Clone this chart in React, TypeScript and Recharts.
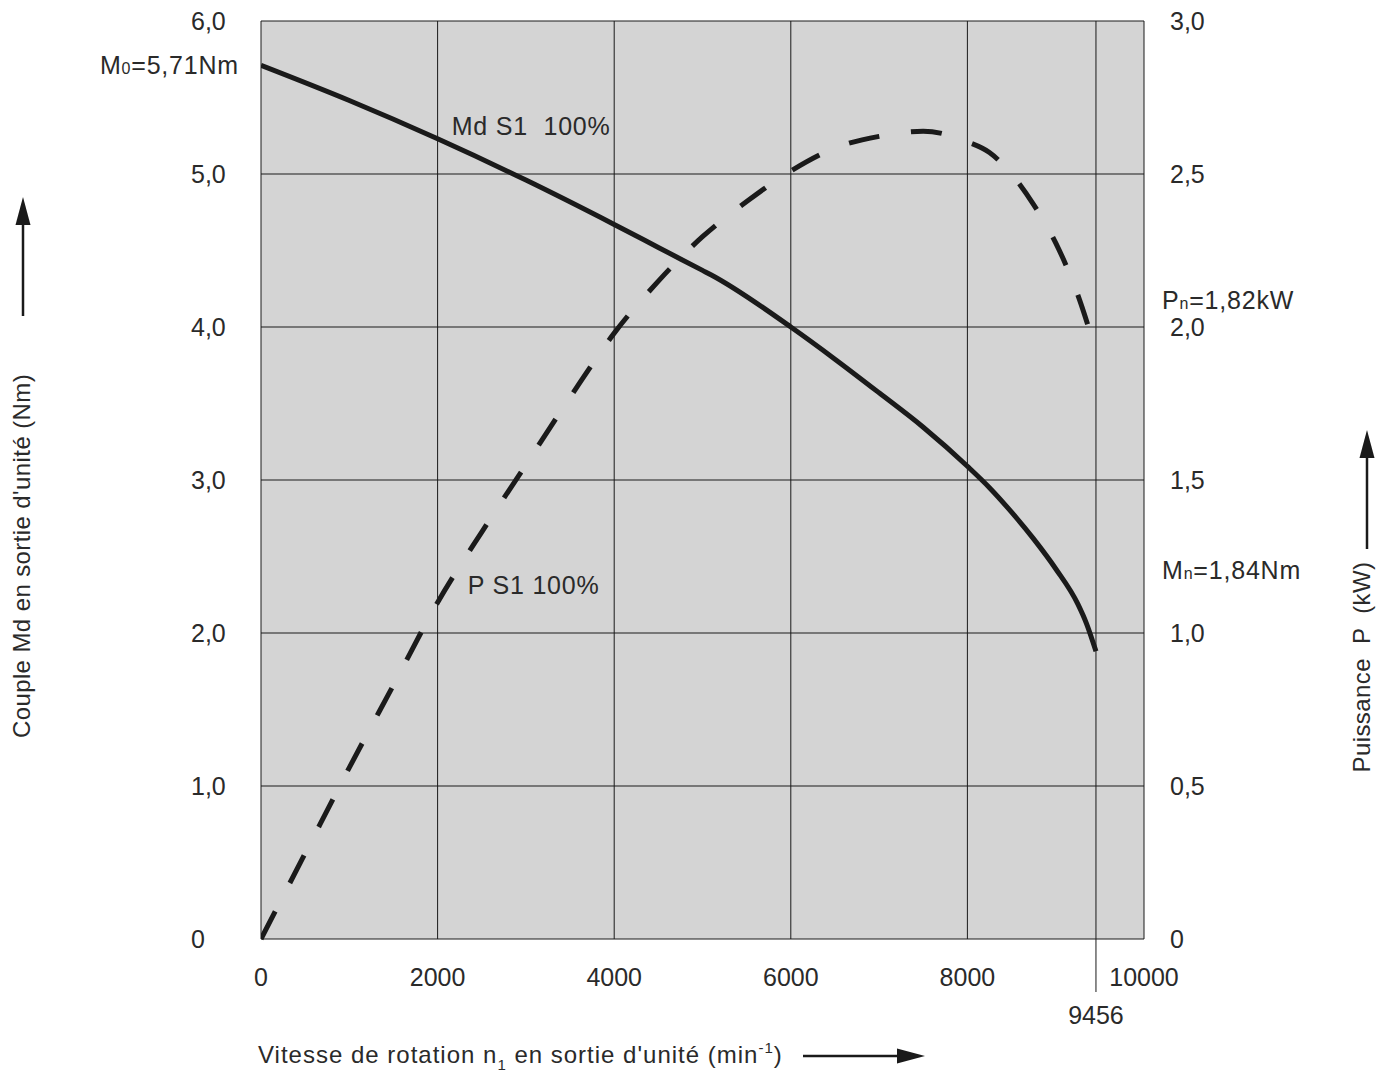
import React from 'react';
import { LineChart, Line, XAxis, YAxis, CartesianGrid, ReferenceDot } from 'recharts';

// ---- axis ticks ----
const speedTicks = [0, 2000, 4000, 6000, 8000, 9456, 10000];
const torqueTicks = [0, 1, 2, 3, 4, 5, 6];
const torqueTickLabels = ['0', '1,0', '2,0', '3,0', '4,0', '5,0', '6,0'];
const powerTicks = [0, 0.5, 1, 1.5, 2, 2.5, 3];
const powerTickLabels = ['0', '0,5', '1,0', '1,5', '2,0', '2,5', '3,0'];

// ---- torque Md S1 100% (Nm) ----
const torqueSpeed = [0, 1000, 2000, 3000, 4000, 4500, 5000, 5100, 6000, 6500, 7000, 7500, 8000, 8250, 8500, 8750, 9000, 9250, 9350, 9456];
const torqueValues = [5.71, 5.48, 5.23, 4.96, 4.67, 4.52, 4.37, 4.34, 4.0, 3.79, 3.57, 3.345, 3.09, 2.95, 2.79, 2.615, 2.42, 2.19, 2.06, 1.88];

// ---- power P S1 100% (kW) ----
const powerSpeed = [0, 500, 1000, 1500, 2000, 2500, 3000, 3500, 4000, 4500, 5000, 5500, 6000, 6500, 7000, 7500, 8000, 8250, 8500, 8750, 9000, 9250, 9456];
const powerValues = [0, 0.28, 0.56, 0.83, 1.1, 1.33, 1.55, 1.77, 1.98, 2.15, 2.295, 2.41, 2.51, 2.585, 2.623, 2.64, 2.605, 2.57, 2.5, 2.4, 2.275, 2.105, 1.92];

const torqueData = torqueSpeed.map((x, i) => ({ x, v: torqueValues[i] }));
const powerData = powerSpeed.map((x, i) => ({ x, v: powerValues[i] }));

const FONT = '"Liberation Sans", Arial, sans-serif';
const TXT = '#2a2a2a';
const INK = '#1a1a1a';

const XTick = (props: any) => {
  const { x, y, payload } = props;
  const v = payload.value;
  if (v === 9456) {
    return (
      <g>
        <line x1={x} x2={x} y1={y - 38} y2={y + 15} stroke={INK} strokeWidth={1} />
        <text x={x} y={y + 38} dy="0.35em" textAnchor="middle" fontFamily={FONT} fontSize={25} fill={TXT}>
          9456
        </text>
      </g>
    );
  }
  return (
    <text x={x} y={y} dy="0.35em" textAnchor="middle" fontFamily={FONT} fontSize={25} fill={TXT}>
      {String(v)}
    </text>
  );
};

const LeftTick = (props: any) => {
  const { x, y, payload } = props;
  const idx = torqueTicks.indexOf(payload.value);
  return (
    <text x={x} y={y} dy="0.35em" textAnchor="start" fontFamily={FONT} fontSize={25} fill={TXT}>
      {torqueTickLabels[idx]}
    </text>
  );
};

const RightTick = (props: any) => {
  const { x, y, payload } = props;
  const idx = powerTicks.indexOf(payload.value);
  return (
    <text x={x} y={y} dy="0.35em" textAnchor="start" fontFamily={FONT} fontSize={25} fill={TXT}>
      {powerTickLabels[idx]}
    </text>
  );
};

const LeftTitle = (p: any) => {
  const vb = p.viewBox;
  const cx = vb.x + 22;
  const cy = vb.y + 535;
  const ax = vb.x + 23;
  return (
    <g>
      <text
        x={cx}
        y={cy}
        dy="0.35em"
        textAnchor="middle"
        transform={`rotate(-90, ${cx}, ${cy})`}
        fontFamily={FONT}
        fontSize={24}
        letterSpacing={0.4}
        fill={TXT}
      >
        Couple Md en sortie d'unité (Nm)
      </text>
      <line x1={ax} x2={ax} y1={vb.y + 295} y2={vb.y + 200} stroke={INK} strokeWidth={2.5} />
      <polygon points={`${ax},${vb.y + 176} ${ax - 7.5},${vb.y + 204} ${ax + 7.5},${vb.y + 204}`} fill={INK} />
    </g>
  );
};

const RightTitle = (p: any) => {
  const vb = p.viewBox;
  const cx = vb.x + 218;
  const cy = vb.y + 646;
  const ax = vb.x + 223;
  return (
    <g>
      <text
        x={cx}
        y={cy}
        dy="0.35em"
        textAnchor="middle"
        transform={`rotate(-90, ${cx}, ${cy})`}
        fontFamily={FONT}
        fontSize={24}
        letterSpacing={0.4}
        fill={TXT}
        style={{ whiteSpace: 'pre' }}
      >
        {'Puissance  P  (kW)'}
      </text>
      <line x1={ax} x2={ax} y1={vb.y + 528} y2={vb.y + 433} stroke={INK} strokeWidth={2.5} />
      <polygon points={`${ax},${vb.y + 409} ${ax - 7.5},${vb.y + 437} ${ax + 7.5},${vb.y + 437}`} fill={INK} />
    </g>
  );
};

const XTitle = (p: any) => {
  const vb = p.viewBox;
  const tx = vb.x - 3;
  const ty = vb.y + 116;
  const ay = vb.y + 117;
  return (
    <g>
      <text x={tx} y={ty} dy="0.35em" textAnchor="start" fontFamily={FONT} fontSize={24} letterSpacing={1} fill={TXT}>
        <tspan>Vitesse de rotation n</tspan>
        <tspan fontSize={15} dy={7}>1</tspan>
        <tspan dy={-7}> en sortie d'unité (min</tspan>
        <tspan fontSize={15} dy={-10}>-1</tspan>
        <tspan dy={10}>)</tspan>
      </text>
      <line x1={vb.x + 542} x2={vb.x + 640} y1={ay} y2={ay} stroke={INK} strokeWidth={2.5} />
      <polygon
        points={`${vb.x + 664},${ay} ${vb.x + 636},${ay - 7.5} ${vb.x + 636},${ay + 7.5}`}
        fill={INK}
      />
    </g>
  );
};

const makeLabel = (parts: { t: string; small?: boolean }[], dx: number, anchor: 'start' | 'end') => (p: any) => {
  const vb = p.viewBox;
  const cx = vb.x + vb.width / 2;
  const cy = vb.y + vb.height / 2;
  return (
    <text
      x={cx + dx}
      y={cy}
      dy="0.35em"
      textAnchor={anchor}
      fontFamily={FONT}
      fontSize={25}
      letterSpacing={0.8}
      fill={TXT}
      style={{ whiteSpace: 'pre' }}
    >
      {parts.map((s, i) => (
        <tspan key={i} fontSize={s.small ? 16 : 25}>
          {s.t}
        </tspan>
      ))}
    </text>
  );
};

export default function App() {
  return (
    <div style={{ position: 'absolute', left: 0, top: 0, width: 1390, height: 1072, background: '#fff' }}>
      <LineChart width={1390} height={1072} margin={{ top: 21, right: 0, bottom: 0, left: 0 }}>
        <CartesianGrid yAxisId="left" stroke={INK} strokeWidth={1} fill="#d4d4d4" fillOpacity={1} />
        <XAxis
          type="number"
          dataKey="x"
          domain={[0, 10000]}
          ticks={speedTicks}
          interval={0}
          allowDataOverflow
          height={133}
          tickSize={0}
          tickMargin={38}
          tickLine={false}
          axisLine={false}
          tick={<XTick />}
          label={{ content: XTitle }}
        />
        <YAxis
          yAxisId="left"
          type="number"
          domain={[0, 6]}
          ticks={torqueTicks}
          interval={0}
          width={261}
          tickSize={0}
          tickMargin={70}
          tickLine={false}
          axisLine={false}
          tick={<LeftTick />}
          label={{ content: LeftTitle }}
        />
        <YAxis
          yAxisId="right"
          orientation="right"
          type="number"
          domain={[0, 3]}
          ticks={powerTicks}
          interval={0}
          width={246}
          tickSize={0}
          tickMargin={26}
          tickLine={false}
          axisLine={false}
          tick={<RightTick />}
          label={{ content: RightTitle }}
        />
        <Line
          yAxisId="left"
          data={torqueData}
          dataKey="v"
          type="monotone"
          stroke={INK}
          strokeWidth={5}
          dot={false}
          activeDot={false}
          isAnimationActive={false}
        />
        <Line
          yAxisId="right"
          data={powerData}
          dataKey="v"
          type="monotone"
          stroke={INK}
          strokeWidth={5}
          strokeDasharray="31 32"
          dot={false}
          activeDot={false}
          isAnimationActive={false}
        />
        <ReferenceDot
          yAxisId="left"
          x={0}
          y={5.71}
          r={1}
          fill="none"
          stroke="none"
          ifOverflow="visible"
          label={{ content: makeLabel([{ t: 'M' }, { t: '0', small: true }, { t: '=5,71Nm' }], -22, 'end') }}
        />
        <ReferenceDot
          yAxisId="left"
          x={2160}
          y={5.31}
          r={1}
          fill="none"
          stroke="none"
          ifOverflow="visible"
          label={{ content: makeLabel([{ t: 'Md S1  100%' }], 0, 'start') }}
        />
        <ReferenceDot
          yAxisId="left"
          x={2341}
          y={2.31}
          r={1}
          fill="none"
          stroke="none"
          ifOverflow="visible"
          label={{ content: makeLabel([{ t: 'P S1 100%' }], 0, 'start') }}
        />
        <ReferenceDot
          yAxisId="right"
          x={10000}
          y={2.088}
          r={1}
          fill="none"
          stroke="none"
          ifOverflow="visible"
          label={{ content: makeLabel([{ t: 'P' }, { t: 'n', small: true }, { t: '=1,82kW' }], 18, 'start') }}
        />
        <ReferenceDot
          yAxisId="right"
          x={10000}
          y={1.206}
          r={1}
          fill="none"
          stroke="none"
          ifOverflow="visible"
          label={{ content: makeLabel([{ t: 'M' }, { t: 'n', small: true }, { t: '=1,84Nm' }], 18, 'start') }}
        />
      </LineChart>
    </div>
  );
}
